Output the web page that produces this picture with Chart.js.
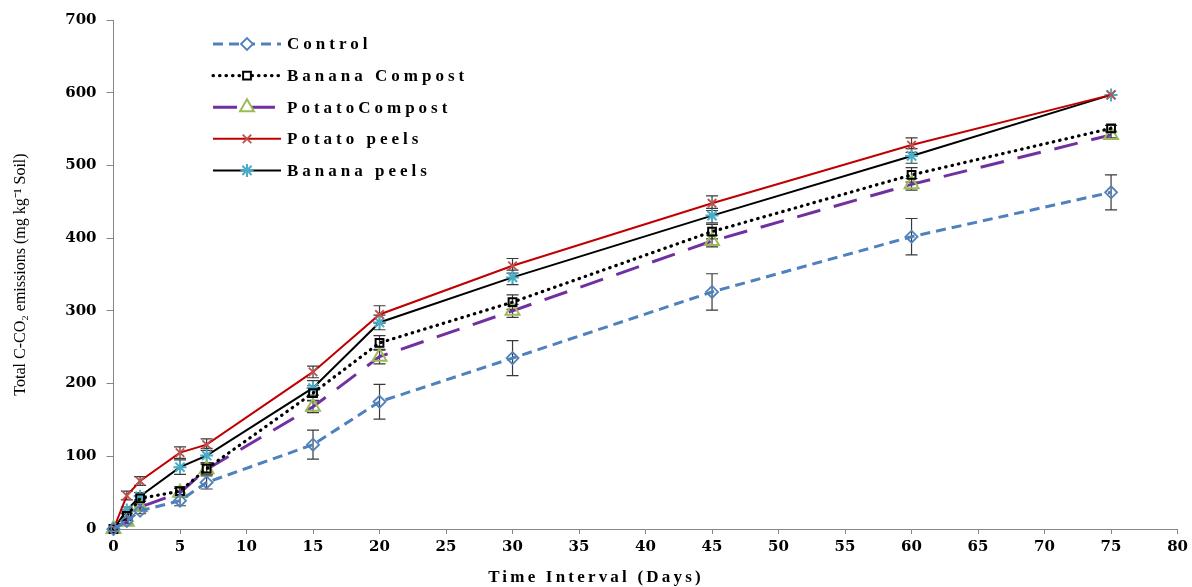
<!DOCTYPE html>
<html>
<head>
<meta charset="utf-8">
<script src="https://cdn.jsdelivr.net/npm/chart.js@4.4.1/dist/chart.umd.min.js"></script>
<style>
  html, body { margin: 0; padding: 0; background: #fff; }
  #wrap { width: 1192px; height: 587px; }
</style>
</head>
<body>
<div id="wrap"><canvas id="chart" width="1192" height="587"></canvas></div>
<script>
const days = [0, 1, 2, 5, 7, 15, 20, 30, 45, 60, 75]

const control       = [0, 11, 25, 39, 64, 116, 175, 235, 326, 402, 463]
const bananaCompost = [0, 18, 42, 52, 83, 187, 256, 312, 409, 487, 551]
const potatoCompost = [0, 10, 30, 50, 82, 168, 237, 300, 396, 474, 542]
const potatoPeels   = [0, 46, 66, 105, 116, 216, 295, 362, 448, 528, 597]
const bananaPeels   = [0, 26, 45, 85, 101, 194, 284, 346, 431, 513, 597]

// standard error bars
const controlErr       = [0, 3, 4, 7, 9, 20, 24, 24, 25, 25, 24]
const bananaCompostErr = [0, 3, 4, 6, 8, 10, 10, 10, 10, 10, 4]
const potatoCompostErr = [0, 3, 4, 6, 7, 8, 10, 9, 8, 8, 4]
const potatoPeelsErr   = [0, 6, 6, 8, 8, 8, 12, 10, 10, 10, 0]
const bananaPeelsErr   = [0, 4, 5, 10, 10, 10, 10, 10, 10, 10, 0]

const yTicks = [0, 100, 200, 300, 400, 500, 600, 700]

const toPoints = (vals) => days.map((d, i) => ({ x: d, y: vals[i] }))

const errorBars = {
  id: "errorBars",
  beforeDatasetsDraw(chart) {
    const ctx = chart.ctx
    const xs = chart.scales.x
    const ys = chart.scales.y
    ctx.save()
    ctx.strokeStyle = "#3a3a3a"
    ctx.lineWidth = 1.2
    chart.data.datasets.forEach((ds) => {
      ds.errors.forEach((e, i) => {
        if (!e) return
        const px = xs.getPixelForValue(ds.data[i].x)
        const top = ys.getPixelForValue(ds.data[i].y + e)
        const bot = ys.getPixelForValue(ds.data[i].y - e)
        ctx.beginPath()
        ctx.moveTo(px, top); ctx.lineTo(px, bot)
        ctx.moveTo(px - 6, top); ctx.lineTo(px + 6, top)
        ctx.moveTo(px - 6, bot); ctx.lineTo(px + 6, bot)
        ctx.stroke()
      })
    })
    ctx.restore()
  }
}

const legendBox = {
  id: "legendBox",
  afterDraw(chart) {
    const ctx = chart.ctx
    ctx.save()
    chart.data.datasets.forEach((ds, i) => {
      const y = 44 + i * 31.6
      ctx.strokeStyle = ds.borderColor
      ctx.lineWidth = ds.borderWidth
      ctx.lineCap = ds.borderCapStyle || "butt"
      ctx.setLineDash(ds.borderDash || [])
      ctx.beginPath()
      ctx.moveTo(213, y); ctx.lineTo(281, y)
      ctx.stroke()
      ctx.setLineDash([])
      ctx.lineCap = "butt"
      ctx.fillStyle = "#fff"
      ctx.strokeStyle = ds.pointBorderColor
      ctx.lineWidth = ds.pointBorderWidth
      Chart.helpers.drawPoint(ctx, {
        pointStyle: ds.pointStyle,
        radius: ds.pointRadius,
        borderWidth: ds.pointBorderWidth,
        rotation: 0
      }, 247, y)
      ctx.fillStyle = "#000"
      ctx.font = "bold 17px 'Liberation Serif'"
      ctx.letterSpacing = "4px"
      ctx.textBaseline = "middle"
      ctx.fillText(ds.label, 287, y + 1)
      ctx.letterSpacing = "0px"
    })
    // x axis title
    ctx.font = "bold 17px 'Liberation Serif'"
    ctx.letterSpacing = "3.2px"
    ctx.textAlign = "center"
    ctx.textBaseline = "middle"
    ctx.fillText("Time Interval (Days)", 596, 578)
    ctx.restore()
  }
}

const chart = document.querySelector("#chart")

const config = {
  type: "line",
  data: {
    datasets: [
      {
        label: "Control",
        data: toPoints(control),
        errors: controlErr,
        borderColor: "#4F81BD",
        borderWidth: 3,
        borderDash: [10, 6],
        pointStyle: "rectRot",
        pointRadius: 6,
        pointBorderColor: "#4F81BD",
        pointBackgroundColor: "rgba(255,255,255,0)",
        pointBorderWidth: 1.8
      },
      {
        label: "Banana Compost",
        data: toPoints(bananaCompost),
        errors: bananaCompostErr,
        borderColor: "#000000",
        borderWidth: 3.2,
        borderDash: [0.5, 6],
        borderCapStyle: "round",
        pointStyle: "rect",
        pointRadius: 5.5,
        pointBorderColor: "#000000",
        pointBackgroundColor: "rgba(255,255,255,0)",
        pointBorderWidth: 2
      },
      {
        label: "PotatoCompost",
        data: toPoints(potatoCompost),
        errors: potatoCompostErr,
        borderColor: "#7030A0",
        borderWidth: 3,
        borderDash: [24, 14],
        pointStyle: "triangle",
        pointRadius: 8,
        pointBorderColor: "#9BBB59",
        pointBackgroundColor: "rgba(255,255,255,0)",
        pointBorderWidth: 2
      },
      {
        label: "Potato peels",
        data: toPoints(potatoPeels),
        errors: potatoPeelsErr,
        borderColor: "#C00000",
        borderWidth: 2,
        pointStyle: "crossRot",
        pointRadius: 6,
        pointBorderColor: "#C0504D",
        pointBorderWidth: 1.8
      },
      {
        label: "Banana peels",
        data: toPoints(bananaPeels),
        errors: bananaPeelsErr,
        borderColor: "#000000",
        borderWidth: 2,
        pointStyle: "star",
        pointRadius: 6.5,
        pointBorderColor: "#4BACC6",
        pointBorderWidth: 2
      }
    ]
  },
  options: {
    responsive: false,
    animation: false,
    clip: false,
    layout: {
      padding: { left: 11, right: 14, top: 20, bottom: 27 }
    },
    scales: {
      x: {
        type: "linear",
        min: 0,
        max: 80,
        ticks: {
          stepSize: 5,
          color: "#000",
          padding: 4,
          font: { family: "'DejaVu Serif'", weight: "bold", size: 15 }
        },
        grid: { drawOnChartArea: false, drawTicks: true, tickLength: 5, color: "#868686" },
        border: { display: true, color: "#868686" }
      },
      y: {
        min: 0,
        max: 700,
        afterBuildTicks: (axis) => { axis.ticks = yTicks.map((v) => ({ value: v })) },
        ticks: {
          color: "#000",
          padding: 10,
          font: { family: "'DejaVu Serif'", weight: "bold", size: 15 }
        },
        grid: { drawOnChartArea: false, drawTicks: true, tickLength: 7, color: "#868686" },
        border: { display: true, color: "#868686" },
        title: {
          display: true,
          text: "Total C-CO\u2082 emissions (mg kg\u207B\u00B9 Soil)",
          color: "#000",
          padding: { top: 0, bottom: 25 },
          font: { family: "'Liberation Serif'", size: 16 }
        }
      }
    },
    plugins: {
      legend: { display: false },
      tooltip: { enabled: false }
    }
  },
  plugins: [errorBars, legendBox]
}

const chartRender = new Chart(chart, config)
</script>
</body>
</html>
